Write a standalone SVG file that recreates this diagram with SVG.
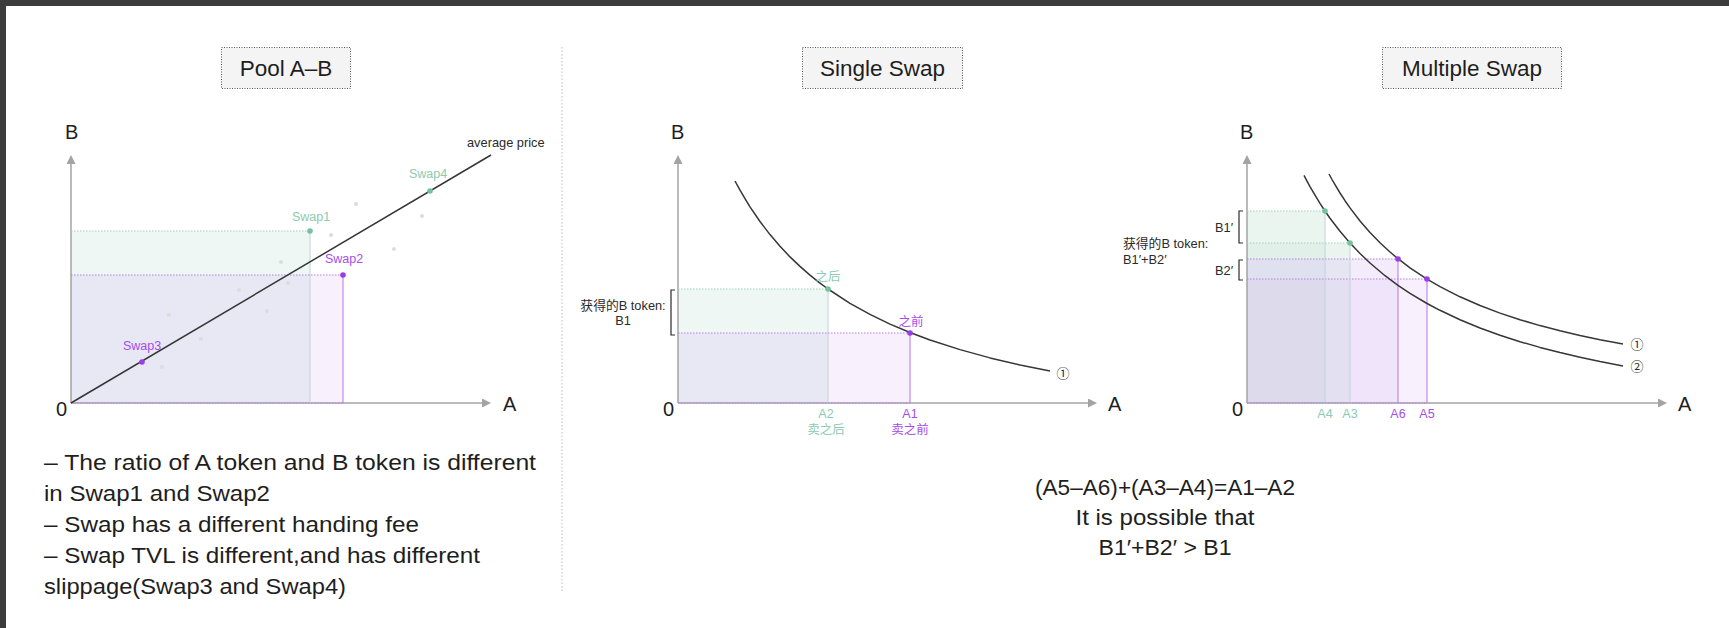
<svg xmlns="http://www.w3.org/2000/svg" width="1729" height="628" viewBox="0 0 1729 628">
<defs>
<marker id="arr" markerUnits="userSpaceOnUse" markerWidth="10" markerHeight="9" refX="0" refY="4.5" orient="auto">
<path d="M0,0 L9,4.5 L0,9 z" fill="#a3a3a3"/>
</marker>
<style>
.ax{stroke:#a3a3a3;stroke-width:1.5;fill:none;marker-end:url(#arr)}
.crv{stroke:#363636;stroke-width:1.5;fill:none;stroke-linejoin:round}
.gd{stroke:#9fd3bc;stroke-width:1.2;stroke-dasharray:1.5 1.5;fill:none}
.pd{stroke:#b87ef0;stroke-width:1.2;stroke-dasharray:1.5 1.5;fill:none}
.gv{stroke:#c2d2d8;stroke-width:1;fill:none}
.pv{stroke:#b577ee;stroke-width:1;fill:none}
.gdot{fill:#74c2a0}
.pdot{fill:#9a3de6}
.ldot{fill:#dcdcdc}
.tb{fill:#f4f4f4;stroke:#555;stroke-width:1;stroke-dasharray:1 1.5}
.tt{font-family:"Liberation Sans",Arial,sans-serif;font-size:22.5px;fill:#1e1e1e;text-anchor:middle}
.axl{font-family:"Liberation Sans",Arial,sans-serif;font-size:20px;fill:#1e1e1e}
.gl{font-family:"Liberation Sans","Noto Sans CJK SC",sans-serif;font-size:12.5px;fill:#8ccbb0}
.pl{font-family:"Liberation Sans","Noto Sans CJK SC",sans-serif;font-size:12.5px;fill:#a64ee8}
.sm{font-family:"Liberation Sans","Noto Sans CJK SC",sans-serif;font-size:12.8px;fill:#2a2a2a}
.cn{font-family:"Noto Sans CJK SC",sans-serif;font-size:13px;fill:#2a2a2a;text-anchor:middle}
.body{font-family:"Liberation Sans","Noto Sans CJK SC",sans-serif;font-size:21.5px;fill:#1e1e1e}
.br{stroke:#2a2a2a;stroke-width:1.2;fill:none}
.div{stroke:#bdbdbd;stroke-width:1;stroke-dasharray:1.5 2}
</style>
</defs>

<g id="frame">
<rect x="0" y="0" width="1729" height="628" fill="#ffffff"/>
<rect x="0" y="0" width="1729" height="6" fill="#3c3c3c"/>
<rect x="0" y="0" width="6" height="628" fill="#3c3c3c"/>
<line class="div" x1="562" y1="47" x2="562" y2="593"/>
</g>

<!-- Panel 1: Pool A-B -->
<g id="pool-title">
<rect class="tb" x="221.5" y="47.5" width="129" height="41"/>
<text class="tt" x="286" y="76">Pool A–B</text>
</g>
<g id="pool-chart">
<rect x="71" y="231" width="239" height="44" fill="#eef7f3"/>
<rect x="71" y="275" width="239" height="128" fill="#e8e7f4"/>
<rect x="310" y="275" width="33" height="128" fill="#f8f0fc"/>
<line class="ax" x1="71" y1="403" x2="71" y2="164"/>
<line class="ax" x1="71" y1="403" x2="482" y2="403"/>
<line class="gd" x1="71" y1="231" x2="310" y2="231"/>
<line class="gv" x1="310" y1="231" x2="310" y2="403"/>
<line class="pd" x1="71" y1="275" x2="343" y2="275"/>
<line class="pv" x1="343" y1="275" x2="343" y2="403"/>
<line class="pd" x1="71" y1="403" x2="343" y2="403"/>
<g>
<circle class="ldot" cx="356" cy="204" r="2"/>
<circle class="ldot" cx="331" cy="235" r="2"/>
<circle class="ldot" cx="422" cy="216" r="2"/>
<circle class="ldot" cx="394" cy="249" r="2"/>
<circle class="ldot" cx="281" cy="262" r="2"/>
<circle class="ldot" cx="288" cy="283" r="2"/>
<circle class="ldot" cx="239" cy="290" r="2"/>
<circle class="ldot" cx="267" cy="311" r="2"/>
<circle class="ldot" cx="169" cy="315" r="2"/>
<circle class="ldot" cx="201" cy="339" r="2"/>
<circle class="ldot" cx="162" cy="367" r="2"/>
</g>
<line class="crv" x1="71" y1="403" x2="491" y2="155"/>
<circle class="gdot" cx="310" cy="231" r="2.8"/>
<circle class="gdot" cx="430" cy="191" r="2.8"/>
<circle class="pdot" cx="343" cy="275" r="2.8"/>
<circle class="pdot" cx="142" cy="362" r="2.8"/>
<text class="axl" x="65" y="139">B</text>
<text class="axl" x="503" y="411">A</text>
<text class="axl" x="56" y="416">0</text>
<text class="sm" x="467" y="147" font-size="13">average price</text>
<text class="gl" x="409" y="178" font-size="13">Swap4</text>
<text class="gl" x="292" y="221" font-size="13">Swap1</text>
<text class="pl" x="325" y="263" font-size="13">Swap2</text>
<text class="pl" x="123" y="350" font-size="13">Swap3</text>
</g>
<g id="pool-notes">
<text class="body" x="44" y="470" textLength="492" lengthAdjust="spacingAndGlyphs">– The ratio of A token and B token is different</text>
<text class="body" x="44" y="501" textLength="226" lengthAdjust="spacingAndGlyphs">in Swap1 and Swap2</text>
<text class="body" x="44" y="532" textLength="375" lengthAdjust="spacingAndGlyphs">– Swap has a different handing fee</text>
<text class="body" x="44" y="563" textLength="436" lengthAdjust="spacingAndGlyphs">– Swap TVL is different,and has different</text>
<text class="body" x="44" y="594" textLength="302" lengthAdjust="spacingAndGlyphs">slippage(Swap3 and Swap4)</text>
</g>

<!-- Panel 2: Single Swap -->
<g id="single-title">
<rect class="tb" x="802.5" y="47.5" width="160" height="41"/>
<text class="tt" x="882.5" y="76">Single Swap</text>
</g>
<g id="single-chart">
<rect x="678" y="289" width="150" height="44" fill="#eef7f3"/>
<rect x="678" y="333" width="150" height="70" fill="#e8e7f4"/>
<rect x="828" y="333" width="82" height="70" fill="#f8f0fc"/>
<line class="ax" x1="678" y1="403" x2="678" y2="164"/>
<line class="ax" x1="678" y1="403" x2="1088" y2="403"/>
<line class="gd" x1="678" y1="289" x2="828" y2="289"/>
<line class="gv" x1="828" y1="289" x2="828" y2="403"/>
<line class="pd" x1="678" y1="333" x2="910" y2="333"/>
<line class="pv" x1="910" y1="333" x2="910" y2="403"/>
<line class="pd" x1="678" y1="403" x2="910" y2="403"/>
<path class="crv" d="M735,181 L740,190.2 L745,198.7 L750,206.8 L760,221.5 L770,234.6 L780,246.3 L790,256.9 L800,266.4 L810,275.1 L819,282.3 L828,289 L850,303.3 L870,314.4 L890,324.1 L910,332.5 L930,340 L960,349.6 L990,357.9 L1020,365 L1050,371.1"/>
<circle class="gdot" cx="828" cy="289" r="2.8"/>
<circle class="pdot" cx="910" cy="333" r="2.8"/>
<text class="cn" x="1063" y="378">①</text>
<text class="axl" x="671" y="139">B</text>
<text class="axl" x="1108" y="411">A</text>
<text class="axl" x="663" y="416">0</text>
<text class="gl" x="828" y="281" text-anchor="middle">之后</text>
<text class="pl" x="911" y="326" text-anchor="middle">之前</text>
<text class="gl" x="826" y="418" text-anchor="middle">A2</text>
<text class="gl" x="826" y="434" text-anchor="middle">卖之后</text>
<text class="pl" x="910" y="418" text-anchor="middle">A1</text>
<text class="pl" x="910" y="434" text-anchor="middle">卖之前</text>
<path class="br" d="M675,290 L671,290 L671,335 L675,335"/>
<text class="sm" x="623" y="310" text-anchor="middle">获得的B token:</text>
<text class="sm" x="623" y="325" text-anchor="middle">B1</text>
</g>

<!-- Panel 3: Multiple Swap -->
<g id="multiple-title">
<rect class="tb" x="1382.5" y="47.5" width="179" height="41"/>
<text class="tt" x="1472" y="76">Multiple Swap</text>
</g>
<g id="multiple-chart">
<rect x="1247" y="211" width="78" height="32" fill="#eaf5f0"/>
<rect x="1247" y="243" width="78" height="16" fill="#e2f0ea"/>
<rect x="1325" y="243" width="25" height="16" fill="#eaf5f0"/>
<rect x="1247" y="259" width="78" height="20" fill="#e0e1ee"/>
<rect x="1325" y="259" width="25" height="20" fill="#e6e6f3"/>
<rect x="1350" y="259" width="48" height="20" fill="#f4ebfb"/>
<rect x="1247" y="279" width="78" height="124" fill="#dddbeb"/>
<rect x="1325" y="279" width="25" height="124" fill="#e3e0f1"/>
<rect x="1350" y="279" width="48" height="124" fill="#efe4fa"/>
<rect x="1398" y="279" width="29" height="124" fill="#f8f0fd"/>
<line class="ax" x1="1247" y1="403" x2="1247" y2="164"/>
<line class="ax" x1="1247" y1="403" x2="1658" y2="403"/>
<line class="gd" x1="1247" y1="211" x2="1325" y2="211"/>
<line class="gd" x1="1247" y1="243" x2="1350" y2="243"/>
<line class="pd" x1="1247" y1="259" x2="1398" y2="259"/>
<line class="pd" x1="1247" y1="279" x2="1427" y2="279"/>
<line class="gv" x1="1325" y1="211" x2="1325" y2="403"/>
<line class="gv" x1="1350" y1="243" x2="1350" y2="403" stroke="#c6cde2"/>
<line class="pv" x1="1398" y1="259" x2="1398" y2="403"/>
<line class="pv" x1="1427" y1="279" x2="1427" y2="403" stroke="#c79af2"/>
<line class="pd" x1="1247" y1="403" x2="1427" y2="403"/>
<path class="crv" d="M1329,174 L1332,179.5 L1335,184.7 L1340,193 L1345,200.7 L1350,207.9 L1360,221 L1370,232.5 L1380,242.8 L1390,252 L1398,258.7 L1410,267.8 L1427,279.1 L1440,286.6 L1460,296.8 L1480,305.5 L1500,313.1 L1520,319.7 L1540,325.6 L1560,330.8 L1580,335.5 L1600,339.7 L1623,344"/>
<path class="crv" d="M1304,175.3 L1307,181.1 L1310,186.6 L1315,195.2 L1320,203.4 L1325,211 L1330,218.2 L1340,231.3 L1350,243 L1360,253.5 L1370,263 L1385,275.7 L1398,285.3 L1410,293.3 L1427,303.5 L1440,310.3 L1460,319.8 L1480,328 L1500,335.2 L1520,341.7 L1540,347.4 L1560,352.6 L1580,357.3 L1600,361.6 L1623,366"/>
<circle class="gdot" cx="1325" cy="211" r="2.8"/>
<circle class="gdot" cx="1350" cy="243" r="2.8"/>
<circle class="pdot" cx="1398" cy="259" r="2.8"/>
<circle class="pdot" cx="1427" cy="279" r="2.8"/>
<text class="cn" x="1637" y="349">①</text>
<text class="cn" x="1637" y="371">②</text>
<text class="axl" x="1240" y="139">B</text>
<text class="axl" x="1678" y="411">A</text>
<text class="axl" x="1232" y="416">0</text>
<text class="gl" x="1325" y="418" text-anchor="middle">A4</text>
<text class="gl" x="1350" y="418" text-anchor="middle">A3</text>
<text class="pl" x="1398" y="418" text-anchor="middle">A6</text>
<text class="pl" x="1427" y="418" text-anchor="middle">A5</text>
<path class="br" d="M1243,211 L1239,211 L1239,243 L1243,243"/>
<path class="br" d="M1243,260 L1239,260 L1239,280 L1243,280"/>
<text class="sm" x="1215" y="232" font-size="12">B1′</text>
<text class="sm" x="1215" y="275" font-size="12">B2′</text>
<text class="sm" x="1123" y="248">获得的B token:</text>
<text class="sm" x="1123" y="264">B1′+B2′</text>
</g>
<g id="multiple-notes">
<text class="body" x="1165" y="495" font-size="20" text-anchor="middle" textLength="260" lengthAdjust="spacingAndGlyphs">(A5–A6)+(A3–A4)=A1–A2</text>
<text class="body" x="1165" y="525" font-size="20" text-anchor="middle" textLength="179" lengthAdjust="spacingAndGlyphs">It is possible that</text>
<text class="body" x="1165" y="555" font-size="20" text-anchor="middle" textLength="133" lengthAdjust="spacingAndGlyphs">B1′+B2′ &gt; B1</text>
</g>
</svg>
